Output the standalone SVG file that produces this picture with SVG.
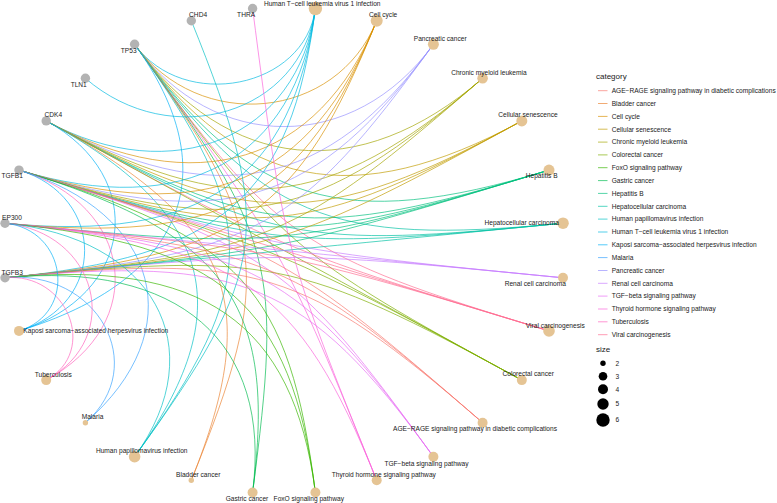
<svg xmlns="http://www.w3.org/2000/svg" width="777" height="503" viewBox="0 0 777 503">
<style>
text{font-family:"Liberation Sans",Arial,sans-serif;fill:#1a1a1a}
.lb{font-size:6.6px;text-anchor:middle}
.lg{font-size:6.6px}
.tt{font-size:8px}
.g{fill:#B3B3B3}
.k{fill:#E5C494}
#edges path,.key{fill:none;stroke-width:0.85;stroke-opacity:0.8}
.c0{stroke:#F8766D}.c1{stroke:#EA8331}.c2{stroke:#D89000}.c3{stroke:#C09B00}.c4{stroke:#A3A500}
.c5{stroke:#7CAE00}.c6{stroke:#39B600}.c7{stroke:#00BB4E}.c8{stroke:#00BF7D}.c9{stroke:#00C1A3}
.c10{stroke:#00BFC4}.c11{stroke:#00BAE0}.c12{stroke:#00B0F6}.c13{stroke:#35A2FF}.c14{stroke:#9590FF}
.c15{stroke:#C77CFF}.c16{stroke:#E76BF3}.c17{stroke:#FA62DB}.c18{stroke:#FF62BC}.c19{stroke:#FF6C91}
</style>
<rect width="777" height="503" fill="#fff"/>
<g id="edges">
<path class="c11" d="M134.6 44.3C183.9 112.4 305.0 88.4 315.4 8.5"/>
<path class="c2" d="M134.6 44.3C199.4 133.8 336.5 120.4 376.7 20.7"/>
<path class="c14" d="M134.6 44.3C214.1 154.0 353.9 154.0 433.4 44.3"/>
<path class="c4" d="M134.6 44.3C227.8 172.9 358.8 185.7 482.6 78.3"/>
<path class="c3" d="M134.6 44.3C240.2 190.1 353.7 212.5 521.8 120.9"/>
<path class="c8" d="M134.6 44.3C251.4 205.5 341.8 233.0 549.0 170.1"/>
<path class="c9" d="M134.6 44.3C261.1 218.9 326.8 246.3 563.0 223.2"/>
<path class="c19" d="M134.6 44.3C275.6 238.9 298.9 255.0 549.0 330.9"/>
<path class="c5" d="M134.6 44.3C280.3 245.3 290.0 253.8 521.8 380.1"/>
<path class="c17" d="M134.6 44.3C283.1 249.2 284.6 252.0 376.7 480.3"/>
<path class="c7" d="M134.6 44.3C275.6 238.9 282.2 264.1 252.6 492.5"/>
<path class="c1" d="M134.6 44.3C269.2 230.1 274.8 273.3 191.3 480.3"/>
<path class="c10" d="M134.6 44.3C261.1 218.9 261.1 282.1 134.6 456.7"/>
<path class="c12" d="M134.6 44.3C227.8 172.9 184.2 280.8 19.0 330.9"/>
<path class="c11" d="M46.2 120.9C172.7 189.9 298.7 137.3 315.4 8.5"/>
<path class="c2" d="M46.2 120.9C194.5 201.7 318.9 164.0 376.7 20.7"/>
<path class="c14" d="M46.2 120.9C214.4 212.5 327.8 190.1 433.4 44.3"/>
<path class="c4" d="M46.2 120.9C232.1 222.2 327.3 212.9 482.6 78.3"/>
<path class="c3" d="M46.2 120.9C247.6 230.6 320.5 230.6 521.8 120.9"/>
<path class="c8" d="M46.2 120.9C260.5 237.7 310.2 242.5 549.0 170.1"/>
<path class="c9" d="M46.2 120.9C270.7 243.2 299.7 249.0 563.0 223.2"/>
<path class="c19" d="M46.2 120.9C282.5 249.7 285.7 251.0 549.0 330.9"/>
<path class="c5" d="M46.2 120.9C284 250.5 284 250.5 521.8 380.1"/>
<path class="c1" d="M46.2 120.9C232.1 222.2 263.8 300.6 191.3 480.3"/>
<path class="c10" d="M46.2 120.9C214.4 212.5 240.2 310.9 134.6 456.7"/>
<path class="c12" d="M46.2 120.9C149.4 177.1 134.0 296.0 19.0 330.9"/>
<path class="c11" d="M19.0 170.1C184.2 220.2 295.8 159.4 315.4 8.5"/>
<path class="c2" d="M19.0 170.1C206.4 227.0 311.2 183.2 376.7 20.7"/>
<path class="c14" d="M19.0 170.1C226.2 233.0 316.6 205.5 433.4 44.3"/>
<path class="c4" d="M19.0 170.1C243.4 238.2 314.4 224.1 482.6 78.3"/>
<path class="c3" d="M19.0 170.1C257.8 242.5 307.5 237.7 521.8 120.9"/>
<path class="c8" d="M19.0 170.1C269.1 246.0 298.9 246.0 549.0 170.1"/>
<path class="c9" d="M19.0 170.1C277.4 248.5 291.0 249.8 563.0 223.2"/>
<path class="c15" d="M19.0 170.1C282.3 250.0 285.8 250.7 563.0 277.8"/>
<path class="c19" d="M19.0 170.1C284 250.5 284 250.5 549.0 330.9"/>
<path class="c5" d="M19.0 170.1C282.3 250.0 285.5 251.3 521.8 380.1"/>
<path class="c0" d="M19.0 170.1C277.4 248.5 289.0 254.8 482.6 422.7"/>
<path class="c16" d="M19.0 170.1C269.1 246.0 292.4 262.1 433.4 456.7"/>
<path class="c6" d="M19.0 170.1C243.4 238.2 288.8 287.6 315.4 492.5"/>
<path class="c7" d="M19.0 170.1C226.2 233.0 277.2 303.3 252.6 492.5"/>
<path class="c13" d="M19.0 170.1C160.0 212.9 191.1 331.1 85.4 422.7"/>
<path class="c18" d="M19.0 170.1C134.0 205.0 149.4 323.9 46.2 380.1"/>
<path class="c12" d="M19.0 170.1C106.5 196.7 106.5 304.4 19.0 330.9"/>
<path class="c11" d="M5.0 277.8C223.1 256.5 290.9 197.7 315.4 8.5"/>
<path class="c2" d="M5.0 277.8C241.2 254.7 298.2 215.3 376.7 20.7"/>
<path class="c14" d="M5.0 277.8C256.4 253.2 298.8 230.1 433.4 44.3"/>
<path class="c4" d="M5.0 277.8C268.3 252.0 295.2 240.8 482.6 78.3"/>
<path class="c3" d="M5.0 277.8C277.0 251.2 290.0 247.3 521.8 120.9"/>
<path class="c8" d="M5.0 277.8C282.2 250.7 285.7 250.0 549.0 170.1"/>
<path class="c9" d="M5.0 277.8C284 250.5 284 250.5 563.0 223.2"/>
<path class="c15" d="M5.0 277.8C282.2 250.7 285.8 250.7 563.0 277.8"/>
<path class="c5" d="M5.0 277.8C268.3 252.0 297.3 257.8 521.8 380.1"/>
<path class="c0" d="M5.0 277.8C256.4 253.2 303.7 267.6 482.6 422.7"/>
<path class="c16" d="M5.0 277.8C241.2 254.7 306.9 282.1 433.4 456.7"/>
<path class="c6" d="M5.0 277.8C202.3 258.5 293.2 321.4 315.4 492.5"/>
<path class="c7" d="M5.0 277.8C179.0 260.8 272.2 341.6 252.6 492.5"/>
<path class="c13" d="M5.0 277.8C97.2 268.8 151.0 365.8 85.4 422.7"/>
<path class="c18" d="M5.0 277.8C67.1 271.7 99.1 351.3 46.2 380.1"/>
<path class="c11" d="M5.0 223.2C202.3 242.5 293.2 179.6 315.4 8.5"/>
<path class="c2" d="M5.0 223.2C223.1 244.5 304.2 200.4 376.7 20.7"/>
<path class="c8" d="M5.0 223.2C277.0 249.8 290.6 248.5 549.0 170.1"/>
<path class="c15" d="M5.0 223.2C284 250.5 284 250.5 563.0 277.8"/>
<path class="c19" d="M5.0 223.2C282.2 250.3 285.7 251.0 549.0 330.9"/>
<path class="c0" d="M5.0 223.2C268.3 249.0 295.2 260.2 482.6 422.7"/>
<path class="c16" d="M5.0 223.2C256.4 247.8 298.8 270.9 433.4 456.7"/>
<path class="c17" d="M5.0 223.2C241.2 246.3 298.2 285.7 376.7 480.3"/>
<path class="c6" d="M5.0 223.2C223.1 244.5 290.9 303.3 315.4 492.5"/>
<path class="c10" d="M5.0 223.2C153.4 237.7 214.1 347.0 134.6 456.7"/>
<path class="c18" d="M5.0 223.2C97.2 232.2 124.7 337.3 46.2 380.1"/>
<path class="c12" d="M5.0 223.2C67.1 229.3 78.0 313.0 19.0 330.9"/>
<path class="c11" d="M85.4 78.3C171.6 153.0 301.8 113.5 315.4 8.5"/>
<path class="c10" d="M191.3 20.7C274.8 227.7 269.2 270.9 134.6 456.7"/>
<path class="c17" d="M252.6 8.5C283.8 249.0 284.6 252.0 376.7 480.3"/>
</g>
<g id="n-TGFB3"><circle class="g" cx="5.0" cy="277.8" r="4.7"/><text class="lb" x="12.2" y="274.7">TGFB3</text></g>
<g id="n-EP300"><circle class="g" cx="5.0" cy="223.2" r="4.7"/><text class="lb" x="12.0" y="219.7">EP300</text></g>
<g id="n-TGFB1"><circle class="g" cx="19.0" cy="170.1" r="4.7"/><text class="lb" x="12.2" y="178.1">TGFB1</text></g>
<g id="n-CDK4"><circle class="g" cx="46.2" cy="120.9" r="4.7"/><text class="lb" x="53.3" y="117.4">CDK4</text></g>
<g id="n-TLN1"><circle class="g" cx="85.4" cy="78.3" r="4.7"/><text class="lb" x="78.7" y="86.7">TLN1</text></g>
<g id="n-TP53"><circle class="g" cx="134.6" cy="44.3" r="4.7"/><text class="lb" x="128.7" y="52.5">TP53</text></g>
<g id="n-CHD4"><circle class="g" cx="191.3" cy="20.7" r="4.7"/><text class="lb" x="198.1" y="17.1">CHD4</text></g>
<g id="n-THRA"><circle class="g" cx="252.6" cy="8.5" r="4.7"/><text class="lb" x="246.1" y="17.1">THRA</text></g>
<g id="n-HTLV"><circle class="k" cx="315.4" cy="8.5" r="6.7"/><text class="lb" x="322.2" y="5.7">Human T−cell leukemia virus 1 infection</text></g>
<g id="n-CellCycle"><circle class="k" cx="376.7" cy="20.7" r="6"/><text class="lb" x="383.2" y="17.4">Cell cycle</text></g>
<g id="n-Pancreatic"><circle class="k" cx="433.4" cy="44.3" r="5.5"/><text class="lb" x="440.2" y="40.7">Pancreatic cancer</text></g>
<g id="n-CML"><circle class="k" cx="482.6" cy="78.3" r="5.3"/><text class="lb" x="488.9" y="74.7">Chronic myeloid leukemia</text></g>
<g id="n-CellSen"><circle class="k" cx="521.8" cy="120.9" r="5.5"/><text class="lb" x="528.0" y="117.4">Cellular senescence</text></g>
<g id="n-HepB"><circle class="k" cx="549.0" cy="170.1" r="5.5"/><text class="lb" x="541.7" y="178.4">Hepatitis B</text></g>
<g id="n-HCC"><circle class="k" cx="563.0" cy="223.2" r="5.8"/><text class="lb" x="521.7" y="224.7">Hepatocellular carcinoma</text></g>
<g id="n-Renal"><circle class="k" cx="563.0" cy="277.8" r="5"/><text class="lb" x="535.3" y="285.7">Renal cell carcinoma</text></g>
<g id="n-Viral"><circle class="k" cx="549.0" cy="330.9" r="5.8"/><text class="lb" x="555.3" y="327.7">Viral carcinogenesis</text></g>
<g id="n-Colorectal"><circle class="k" cx="521.8" cy="380.1" r="5"/><text class="lb" x="528.2" y="376.4">Colorectal cancer</text></g>
<g id="n-AGE"><circle class="k" cx="482.6" cy="422.7" r="5"/><text class="lb" x="475.0" y="430.7">AGE−RAGE signaling pathway in diabetic complications</text></g>
<g id="n-TGFbeta"><circle class="k" cx="433.4" cy="456.7" r="5"/><text class="lb" x="426.5" y="465.7">TGF−beta signaling pathway</text></g>
<g id="n-Thyroid"><circle class="k" cx="376.7" cy="480.3" r="5"/><text class="lb" x="383.8" y="477.1">Thyroid hormone signaling pathway</text></g>
<g id="n-FoxO"><circle class="k" cx="315.4" cy="492.5" r="5"/><text class="lb" x="308.8" y="501.0">FoxO signaling pathway</text></g>
<g id="n-Gastric"><circle class="k" cx="252.6" cy="492.5" r="5"/><text class="lb" x="247.0" y="500.7">Gastric cancer</text></g>
<g id="n-Bladder"><circle class="k" cx="191.3" cy="480.3" r="2.7"/><text class="lb" x="198.2" y="476.7">Bladder cancer</text></g>
<g id="n-HPV"><circle class="k" cx="134.6" cy="456.7" r="5.8"/><text class="lb" x="141.7" y="453.1">Human papillomavirus infection</text></g>
<g id="n-Malaria"><circle class="k" cx="85.4" cy="422.7" r="2.7"/><text class="lb" x="92.5" y="419.1">Malaria</text></g>
<g id="n-Tuberculosis"><circle class="k" cx="46.2" cy="380.1" r="5"/><text class="lb" x="53.3" y="376.7">Tuberculosis</text></g>
<g id="n-Kaposi"><circle class="k" cx="19.0" cy="330.9" r="5"/><text class="lb" x="95.8" y="333.1">Kaposi sarcoma−associated herpesvirus infection</text></g>
<g id="legend">
<text class="tt" x="596" y="79">category</text>
<path class="key c0" d="M598 90.7h9.5"/><text class="lg" x="611.7" y="93">AGE−RAGE signaling pathway in diabetic complications</text>
<path class="key c1" d="M598 103.5h9.5"/><text class="lg" x="611.7" y="105.8">Bladder cancer</text>
<path class="key c2" d="M598 116.4h9.5"/><text class="lg" x="611.7" y="118.7">Cell cycle</text>
<path class="key c3" d="M598 129.2h9.5"/><text class="lg" x="611.7" y="131.5">Cellular senescence</text>
<path class="key c4" d="M598 142.1h9.5"/><text class="lg" x="611.7" y="144.4">Chronic myeloid leukemia</text>
<path class="key c5" d="M598 154.9h9.5"/><text class="lg" x="611.7" y="157.2">Colorectal cancer</text>
<path class="key c6" d="M598 167.7h9.5"/><text class="lg" x="611.7" y="170">FoxO signaling pathway</text>
<path class="key c7" d="M598 180.6h9.5"/><text class="lg" x="611.7" y="182.9">Gastric cancer</text>
<path class="key c8" d="M598 193.4h9.5"/><text class="lg" x="611.7" y="195.7">Hepatitis B</text>
<path class="key c9" d="M598 206.3h9.5"/><text class="lg" x="611.7" y="208.6">Hepatocellular carcinoma</text>
<path class="key c10" d="M598 219.1h9.5"/><text class="lg" x="611.7" y="221.4">Human papillomavirus infection</text>
<path class="key c11" d="M598 232h9.5"/><text class="lg" x="611.7" y="234.3">Human T−cell leukemia virus 1 infection</text>
<path class="key c12" d="M598 244.8h9.5"/><text class="lg" x="611.7" y="247.1">Kaposi sarcoma−associated herpesvirus infection</text>
<path class="key c13" d="M598 257.6h9.5"/><text class="lg" x="611.7" y="259.9">Malaria</text>
<path class="key c14" d="M598 270.5h9.5"/><text class="lg" x="611.7" y="272.8">Pancreatic cancer</text>
<path class="key c15" d="M598 283.3h9.5"/><text class="lg" x="611.7" y="285.6">Renal cell carcinoma</text>
<path class="key c16" d="M598 296.1h9.5"/><text class="lg" x="611.7" y="298.4">TGF−beta signaling pathway</text>
<path class="key c17" d="M598 309h9.5"/><text class="lg" x="611.7" y="311.3">Thyroid hormone signaling pathway</text>
<path class="key c18" d="M598 321.8h9.5"/><text class="lg" x="611.7" y="324.1">Tuberculosis</text>
<path class="key c19" d="M598 334.7h9.5"/><text class="lg" x="611.7" y="337">Viral carcinogenesis</text>
<text class="tt" x="596" y="352.3">size</text>
<circle cx="603" cy="363.3" r="2.7" fill="#000"/><text class="lg" x="615.5" y="365.6">2</text>
<circle cx="603" cy="376.3" r="4.3" fill="#000"/><text class="lg" x="615.5" y="378.6">3</text>
<circle cx="603" cy="389.3" r="5" fill="#000"/><text class="lg" x="615.5" y="391.6">4</text>
<circle cx="603" cy="404" r="5.7" fill="#000"/><text class="lg" x="615.5" y="406.3">5</text>
<circle cx="603" cy="420" r="6.7" fill="#000"/><text class="lg" x="615.5" y="422.3">6</text>
</g>
</svg>
